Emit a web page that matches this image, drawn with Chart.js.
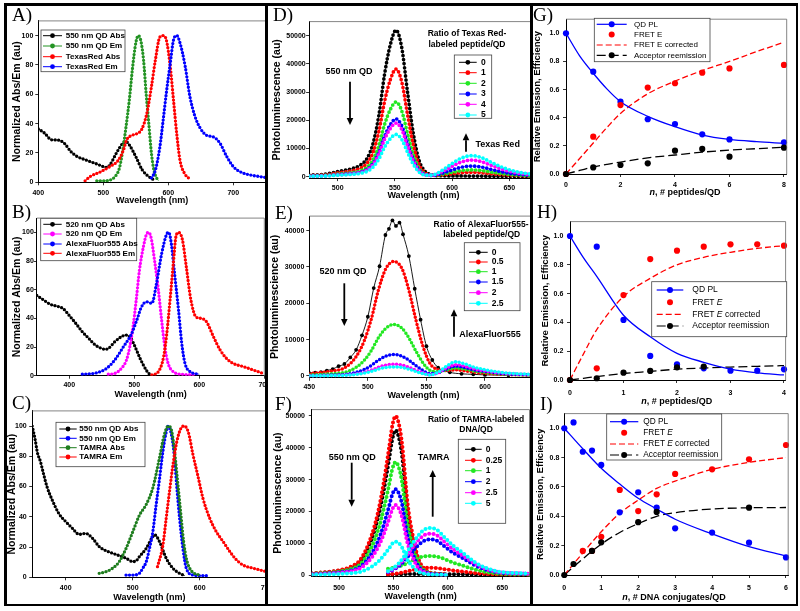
<!DOCTYPE html>
<html>
<head>
<meta charset="utf-8">
<title>QD FRET spectra and efficiencies</title>
<script src="https://cdn.jsdelivr.net/npm/chart.js@4.4.1/dist/chart.umd.min.js"></script>
<style>
  html, body { margin: 0; padding: 0; background: #fff; }
  #fig { position: relative; width: 800px; height: 611px; overflow: hidden; background: #fff; }
  .cell { position: absolute; top: 0; height: 611px; overflow: hidden; z-index: 1; }
  .cell canvas { position: absolute; top: 0; }
  .tag { position: absolute; z-index: 3; font-family: "Liberation Serif", "DejaVu Serif", serif; font-size: 19px; line-height: 19px; color: #000; }
  .rule { position: absolute; background: #000; z-index: 2; }
</style>
</head>
<body>
<div id="fig"></div>
<script>
// --- DATA: panel A (550 nm QD / Texas Red) ---
const aLabels = ['550 nm QD Abs', '550 nm QD Em', 'TexasRed Abs', 'TexasRed Em'];
const aQdAbsX = [400, 410, 420, 430, 440, 450, 460, 470, 480, 490, 500, 505, 510, 520, 530, 535, 540, 550, 560, 570, 578];
const aQdAbsY = [36.4, 33.4, 29, 28.8, 26.6, 21, 17.5, 15.7, 14.1, 12.5, 10.7, 10.2, 11.8, 19.8, 26.6, 27.7, 25.5, 17.5, 8.4, 3.9, 1.6];
const aQdEmX = [490, 500, 510, 520, 525, 530, 535, 540, 545, 550, 554, 558, 562, 566, 570, 574, 578, 582, 585];
const aQdEmY = [1, 1, 1.5, 5, 10, 22, 38, 56, 78, 95, 100, 96, 83, 60, 40, 20, 8, 3, 1];
const aTrAbsX = [472, 480, 495, 510, 523, 531, 536, 544, 551, 559, 567, 574, 580, 587, 592, 597, 603, 608, 613, 618, 625, 631];
const aTrAbsY = [1, 4, 7, 10.7, 15, 22, 29, 32, 33, 36, 47, 65, 83, 99, 100, 97, 79, 56, 33, 15, 6, 3];
const aTrEmX = [574, 580, 587, 592, 597, 603, 608, 613, 618, 626, 633, 641, 649, 659, 669, 679, 690, 700, 710, 726, 741, 751];
const aTrEmY = [3, 8, 24, 42, 61, 81, 97, 100, 95, 79, 59, 45, 37, 32, 31, 27, 17.5, 10.7, 7.3, 5, 3.9, 3.2];

// --- DATA: panel B (520 nm QD / AlexaFluor555) ---
const bLabels = ['520 nm QD Abs', '520 nm QD Em', 'AlexaFluor555 Abs', 'AlexaFluor555 Em'];
const bQdAbsX = [350, 360, 370, 380, 390, 400, 410, 420, 430, 440, 450, 455, 460, 470, 480, 487, 495, 500, 510, 520, 525];
const bQdAbsY = [56, 53, 50, 48.6, 47, 42, 36.5, 30.7, 26, 21.4, 19, 18.4, 19, 23.7, 27.2, 28.4, 26, 21.4, 11, 2.8, 0.5];
const bQdEmX = [460, 470, 480, 488, 493, 498, 503, 508, 514, 519, 522, 526, 531, 537, 542, 547, 552, 560, 573, 591];
const bQdEmY = [1, 1.6, 5, 11, 20, 34, 53, 74, 90, 99, 100, 96, 81, 60, 39, 20, 8.6, 2.8, 1, 0.7];
const bAfAbsX = [420, 442, 457, 470, 483, 496, 504, 511, 519, 527, 534, 542, 550, 553, 557, 562, 568, 573, 578, 586, 600];
const bAfAbsY = [1, 2, 5, 11, 20, 29.5, 39, 48, 51.6, 50.5, 64, 85, 99, 100, 92, 71, 46, 22.6, 8.6, 2.8, 1];
const bAfEmX = [527, 537, 545, 550, 555, 560, 564, 568, 574, 580, 587, 595, 603, 611, 622, 632, 642, 652, 668, 683, 698];
const bAfEmY = [0.5, 2.8, 13, 29.5, 53, 78, 97, 100, 95, 76, 53, 41, 40, 37.7, 27, 18, 12, 8.6, 6.3, 4, 1.6];

// --- DATA: panel C (550 nm QD / TAMRA) ---
const cLabels = ['550 nm QD Abs', '550 nm QD Em', 'TAMRA Abs', 'TAMRA Em'];
const cQdAbsX = [350, 354, 358, 362, 366, 372, 380, 390, 400, 410, 420, 430, 440, 450, 460, 470, 480, 490, 500, 505, 510, 520, 530, 533, 540, 550, 560, 570, 578];
const cQdAbsY = [100, 92, 82, 77, 70, 60, 51, 42, 36.8, 32.4, 28.4, 29, 25.8, 20.3, 17.6, 15.9, 14.3, 12.6, 10.4, 10.8, 13.7, 19, 26.9, 28, 23.6, 12.6, 6, 2.6, 1.1];
const cQdEmX = [490, 500, 510, 515, 520, 525, 530, 535, 540, 545, 550, 553, 558, 562, 566, 570, 575, 580, 590, 600, 610];
const cQdEmY = [1.5, 1.5, 2.6, 6, 10, 19, 30, 48, 65, 83, 96, 100, 94, 81, 59, 39, 19, 6, 1.5, 1.1, 1.1];
const cTamAbsX = [450, 460, 470, 480, 490, 500, 510, 520, 530, 540, 547, 553, 558, 563, 568, 572, 576, 580, 585, 592, 600];
const cTamAbsY = [2.6, 3.7, 6, 10.4, 19, 30, 41, 48, 59, 79, 94, 100, 97, 81, 59, 41, 23.6, 12.6, 6, 2.6, 1.5];
const cTamEmX = [537, 545, 550, 555, 560, 566, 572, 577, 583, 590, 597, 605, 615, 625, 635, 645, 655, 665, 680, 700];
const cTamEmY = [7, 21, 39, 57, 74, 90, 98.5, 100, 96, 81, 67.6, 52, 39, 30, 23.6, 17, 11.5, 8, 6, 3.7];

// --- DATA: panel D (Texas Red peptide ratios) ---
const dRatios = ['0', '1', '2', '3', '4', '5'];
const dX = [475, 490, 500, 510, 520, 526, 531, 536, 541, 546, 551, 556, 561, 566, 571, 576, 581, 586, 592, 600, 608, 617, 626, 635, 645, 655, 670];
const d0 = [570, 940, 1820, 2600, 4160, 6760, 11960, 21840, 36400, 46800, 52000, 45760, 30160, 15600, 5980, 2080, 780, 420, 310, 260, 260, 210, 210, 160, 160, 100, 100];
const d1 = [420, 690, 1340, 1910, 3060, 4970, 8790, 16040, 26740, 34380, 38200, 33620, 22160, 11460, 4390, 1530, 630, 470, 680, 1060, 1420, 1550, 1410, 1040, 700, 430, 230];
const d2 = [290, 480, 930, 1330, 2120, 3450, 6100, 11130, 18550, 23850, 26500, 23320, 15370, 7950, 3050, 1060, 490, 490, 900, 1560, 2160, 2410, 2180, 1600, 1050, 630, 310];
const d3 = [230, 370, 720, 1030, 1640, 2670, 4720, 8610, 14350, 18450, 20500, 18040, 11890, 6150, 2360, 820, 460, 610, 1310, 2400, 3360, 3780, 3410, 2500, 1620, 970, 450];
const d4 = [210, 340, 670, 950, 1520, 2470, 4370, 7980, 13300, 17100, 19000, 16720, 11020, 5700, 2190, 760, 520, 850, 1970, 3690, 5200, 5880, 5300, 3890, 2490, 1490, 680];
const d5 = [170, 270, 530, 750, 1200, 1950, 3450, 6300, 10500, 13500, 15000, 13200, 8700, 4500, 1730, 600, 520, 1010, 2460, 4660, 6590, 7460, 6720, 4930, 3150, 1880, 840];

// --- DATA: panel E (AlexaFluor555 peptide ratios) ---
const eRatios = ['0', '0.5', '1', '1.5', '2', '2.5'];
const e0X = [450, 455, 460, 465, 470, 475, 480, 485, 490, 495, 500, 505, 510, 515, 518, 521, 524, 527, 530, 535, 540, 545, 550, 555, 560, 570, 580, 590, 600, 620, 640];
const e0 = [800, 950, 1050, 1500, 1900, 2700, 3300, 5100, 7200, 11200, 16300, 24200, 30200, 38800, 40500, 42800, 41300, 42200, 39000, 33000, 24000, 15500, 8200, 4400, 2300, 1000, 600, 450, 300, 200, 150];
const eX = [450, 460, 470, 480, 490, 497, 503, 509, 515, 522, 529, 535, 541, 547, 553, 560, 567, 575, 583, 591, 600, 610, 620, 630, 640];
const e05 = [630, 950, 1420, 2200, 5360, 9770, 15750, 23630, 29300, 31500, 29610, 23630, 15440, 8190, 3470, 1750, 1500, 1700, 1400, 1050, 760, 560, 400, 300, 250];
const e1 = [280, 420, 630, 980, 2380, 4340, 7000, 10500, 13020, 14200, 13160, 10500, 6860, 3640, 1540, 1150, 1700, 2200, 1900, 1350, 1000, 680, 470, 350, 280];
const e15 = [120, 170, 260, 410, 990, 1800, 2900, 4350, 5390, 5900, 5450, 4350, 2840, 1510, 640, 900, 1950, 2700, 2300, 1650, 1250, 820, 560, 420, 330];
const e2 = [64, 96, 144, 224, 544, 990, 1600, 2400, 2980, 3250, 3010, 2400, 1570, 830, 350, 900, 2200, 3100, 2650, 1900, 1400, 950, 630, 470, 380];
const e25 = [50, 75, 110, 175, 425, 775, 1250, 1880, 2330, 2500, 2350, 1880, 1230, 650, 280, 1050, 2700, 3900, 3300, 2400, 1750, 1150, 780, 580, 460];

// --- DATA: panel F (TAMRA DNA ratios; QD part and TAMRA part) ---
const fRatios = ['0', '0.25', '1', '2', '2.5', '5'];
const fX = [475, 490, 500, 510, 520, 530, 536, 541, 546, 549, 552, 555, 558, 563, 568, 573, 580, 590, 600];
const f0 = [455, 910, 1365, 2275, 4550, 11375, 18200, 26390, 36400, 42770, 45500, 43225, 37310, 20475, 10920, 4550, 1365, 364, 137];
const f025 = [500, 1000, 1500, 2500, 5000, 12500, 20000, 29000, 40000, 47000, 50000, 47500, 41000, 22500, 12000, 5000, 1500, 400, 150];
const f1 = [355, 710, 1065, 1775, 3550, 8875, 14200, 20590, 28400, 33370, 35500, 33725, 29110, 15975, 8520, 3550, 1065, 284, 107];
const f2 = [270, 540, 810, 1350, 2700, 6750, 10800, 15660, 21600, 25380, 27000, 25650, 22140, 12150, 6480, 2700, 810, 216, 81];
const f25 = [220, 440, 660, 1100, 2200, 5500, 8800, 12760, 17600, 20680, 22000, 20900, 18040, 9900, 5280, 2200, 660, 176, 66];
const f5 = [105, 210, 315, 525, 1050, 2625, 4200, 6090, 8400, 9870, 10500, 9975, 8610, 4725, 2520, 1050, 315, 84, 32];
const faX = [545, 550, 555, 560, 565, 570, 576, 583, 590, 597, 605, 615, 625, 635, 645, 655, 665, 675];
const fa0 = [150, 200, 250, 280, 300, 300, 300, 300, 290, 270, 240, 200, 150, 100, 80, 60, 50, 40];
const fa025 = [184, 345, 575, 920, 1334, 1725, 2116, 2300, 2208, 1840, 1426, 1035, 621, 345, 184, 115, 92, 69];
const fa1 = [2000, 2300, 2700, 3300, 4200, 5000, 5700, 6000, 5800, 5000, 3900, 2800, 1700, 950, 500, 320, 250, 190];
const fa2 = [900, 1680, 2800, 4480, 6500, 8400, 10300, 11200, 10750, 8960, 6940, 5040, 3020, 1680, 900, 560, 450, 340];
const fa25 = [1040, 1950, 3250, 5200, 7540, 9750, 11960, 13000, 12480, 10400, 8060, 5850, 3510, 1950, 1040, 650, 520, 390];
const fa5 = [1180, 2220, 3700, 5920, 8580, 11100, 13620, 14800, 14200, 11840, 9180, 6660, 4000, 2220, 1180, 740, 590, 440];

// --- DATA: panel G (Texas Red peptides) ---
const gLabels = ['QD PL', 'FRET E', 'FRET E corrected', 'Acceptor reemission'];
const gN = [0, 1, 2, 3, 4, 5, 6, 8];
const gQdPl = [1.0, 0.727, 0.514, 0.389, 0.355, 0.282, 0.246, 0.225];
const gFret = [0, 0.265, 0.49, 0.614, 0.645, 0.72, 0.75, 0.775];
const gAcc = [0, 0.047, 0.064, 0.076, 0.166, 0.178, 0.123, 0.187];
const gFitN = [0, 0.5, 1, 1.5, 2, 3, 4, 5, 6, 7, 8];
const gQdFit = [1.0, 0.84, 0.716, 0.605, 0.514, 0.41, 0.336, 0.277, 0.246, 0.23, 0.218];
const gFretFit = [0, 0.11, 0.22, 0.33, 0.43, 0.57, 0.66, 0.735, 0.80, 0.87, 0.936];
const gAccFit = [0, 0.025, 0.05, 0.068, 0.085, 0.115, 0.135, 0.155, 0.17, 0.18, 0.19];

// --- DATA: panel H (AlexaFluor555 peptides) ---
const hLabels = ['QD PL', 'FRET *E*', 'FRET *E* corrected', 'Acceptor reemission'];
const hN = [0, 0.5, 1, 1.5, 2, 2.5, 3, 3.5, 4];
const hQdPl = [1.0, 0.926, 0.417, 0.167, 0.109, 0.081, 0.065, 0.065, 0.074];
const hFret = [0, 0.081, 0.59, 0.84, 0.898, 0.926, 0.942, 0.942, 0.933];
const hAccN = [0, 0.5, 1, 1.5, 2, 2.5];
const hAcc = [0, 0.012, 0.051, 0.063, 0.088, 0.093];
const hFitN = [0, 0.25, 0.5, 1, 1.5, 2, 2.5, 3, 3.5, 4];
const hQdFit = [1.0, 0.85, 0.72, 0.45, 0.30, 0.185, 0.123, 0.076, 0.05, 0.035];
const hFretFit = [0, 0.18, 0.35, 0.58, 0.706, 0.80, 0.852, 0.887, 0.914, 0.933];
const hAccFit = [0, 0.012, 0.024, 0.045, 0.06, 0.075, 0.083, 0.09, 0.095, 0.10];

// --- DATA: panel I (TAMRA DNA) ---
const iLabels = ['QD PL', 'FRET *E*', 'FRET *E* corrected', 'Acceptor reemission'];
const iN = [0, 0.25, 0.5, 0.75, 1, 1.5, 2, 2.5, 3, 4, 5, 6];
const iQdPl = [1.0, 1.04, 0.84, 0.848, 0.75, 0.427, 0.564, 0.459, 0.318, 0.289, 0.22, 0.12];
const iFretN = [0.5, 0.75, 1, 1.5, 2, 2.5, 3, 4, 5, 6];
const iFret = [0.164, 0.164, 0.26, 0.58, 0.436, 0.55, 0.689, 0.72, 0.789, 0.886];
const iAccN = [0, 0.25, 0.75, 1, 2, 2.5, 5];
const iAcc = [0, 0.075, 0.164, 0.223, 0.36, 0.43, 0.459];
const iFitN = [0, 0.5, 1, 1.5, 2, 2.5, 3, 4, 5, 6];
const iQdFit = [1.0, 0.86, 0.727, 0.62, 0.523, 0.45, 0.38, 0.28, 0.193, 0.13];
const iFretFit = [0, 0.15, 0.295, 0.42, 0.51, 0.59, 0.64, 0.72, 0.768, 0.80];
const iAccFit = [0, 0.11, 0.21, 0.29, 0.35, 0.40, 0.425, 0.45, 0.458, 0.46];

// --- TICKS ---
const tickWl = [400, 500, 600, 700];
const tickNorm = [0, 20, 40, 60, 80, 100];
const tickD = [500, 550, 600, 650];
const tickE = [450, 500, 550, 600];
const tickPL50 = [0, 10000, 20000, 30000, 40000, 50000];
const tickPL40 = [0, 10000, 20000, 30000, 40000];
const tickEff = [0, 0.2, 0.4, 0.6, 0.8, 1.0];
const tickG = [0, 2, 4, 6, 8];
const tickH = [0, 1, 2, 3, 4];
const tickI = [0, 1, 2, 3, 4, 5, 6];

// --- STYLE ---
const FONT = '"Liberation Sans", Arial, Helvetica, sans-serif';
Chart.defaults.font.family = FONT;
Chart.defaults.color = '#000';
const BLACK = '#000000', RED = '#ff0000', BLUE = '#0000ff', MAG = '#ff00ff', CYAN = '#00ffff', LIME = '#22e822';
const ratioColors = [BLACK, RED, LIME, BLUE, MAG, CYAN];

const fig = document.getElementById('fig');
const toXY = (xs, ys) => xs.map((x, i) => ({ x, y: ys[i] }));

// beaded curve: round-capped zero-length dashes + a thin line under it
function dotted(label, xs, ys, color, w, gap, order) {
  const data = toXY(xs, ys);
  return [
    { label, data, borderColor: color, backgroundColor: color, borderWidth: w, borderDash: [0, gap],
      borderCapStyle: 'round', pointRadius: 0, cubicInterpolationMode: 'monotone', order },
    { label, data, borderColor: color, borderWidth: 0.7, pointRadius: 0,
      cubicInterpolationMode: 'monotone', order: order + 0.5 }
  ];
}

function spectraItems(labels, colors) {
  return labels.map((t, i) => ({ text: t, color: colors[i], line: true, lw: 1, dot: true, r: 2.4 }));
}

function effItems(labels) {
  return [
    { text: labels[0], color: BLUE, line: true, lw: 1.2, dot: true, r: 3 },
    { text: labels[1], color: RED, dot: true, r: 3 },
    { text: labels[2], color: RED, line: true, lw: 1.2, dash: [6, 3] },
    { text: labels[3], color: BLACK, line: true, lw: 1.2, dash: [9, 4], dot: true, r: 3 }
  ];
}

function effDatasets(labels, fitN, qdFit, fretFit, accFit, qdN, qdY, fretN, fretY, accN, accY) {
  const fit = (label, ys, color, dash, order) => ({
    label, data: toXY(fitN, ys), borderColor: color, borderWidth: 1.3, borderDash: dash,
    pointRadius: 0, cubicInterpolationMode: 'monotone', order
  });
  const dots = (label, xs, ys, color, order) => ({
    label, data: toXY(xs, ys), showLine: false, pointRadius: 3.1,
    pointBackgroundColor: color, pointBorderWidth: 0, order, clip: false
  });
  return [
    fit(labels[3], accFit, BLACK, [9, 4], 6),
    fit(labels[2], fretFit, RED, [6, 3], 5),
    fit(labels[0], qdFit, BLUE, [], 4),
    dots(labels[0], qdN, qdY, BLUE, 3),
    dots(labels[1], fretN, fretY, RED, 2),
    dots(labels[3], accN, accY, BLACK, 1)
  ];
}

// --- DRAWING HELPERS ---
function drawRich(ctx, s, x, y, size, weight, align) {
  const parts = s.split('*').map((t, i) => ({ t, it: i % 2 === 1 })).filter(p => p.t);
  const fontOf = p => (p.it ? 'italic ' : '') + weight + ' ' + size + 'px ' + FONT;
  let w = 0;
  parts.forEach(p => { ctx.font = fontOf(p); w += ctx.measureText(p.t).width; });
  let cx = align === 'center' ? x - w / 2 : x;
  ctx.textBaseline = 'middle'; ctx.textAlign = 'left'; ctx.fillStyle = '#000';
  parts.forEach(p => { ctx.font = fontOf(p); ctx.fillText(p.t, cx, y); cx += ctx.measureText(p.t).width; });
}

function drawLegend(ctx, L) {
  const [x0, y0, x1, y1] = L.box;
  ctx.fillStyle = '#fff';
  ctx.fillRect(x0, y0, x1 - x0, y1 - y0);
  ctx.strokeStyle = '#444'; ctx.lineWidth = 0.8;
  ctx.strokeRect(x0, y0, x1 - x0, y1 - y0);
  L.items.forEach((it, i) => {
    const y = L.rows[i], [s0, s1] = L.sample;
    if (it.line) {
      ctx.setLineDash(it.dash || []);
      ctx.strokeStyle = it.color; ctx.lineWidth = it.lw;
      ctx.beginPath(); ctx.moveTo(s0, y); ctx.lineTo(s1, y); ctx.stroke();
      ctx.setLineDash([]);
    }
    if (it.dot) {
      ctx.fillStyle = it.color;
      ctx.beginPath(); ctx.arc((s0 + s1) / 2, y, it.r, 0, Math.PI * 2); ctx.fill();
    }
    drawRich(ctx, it.text, L.tx, y, L.size, L.weight, 'left');
  });
}

function drawArrow(ctx, x, yFrom, yTo) {
  const dir = Math.sign(yTo - yFrom), head = 7, hw = 3.3;
  ctx.strokeStyle = '#000'; ctx.fillStyle = '#000'; ctx.lineWidth = 1.8;
  ctx.beginPath(); ctx.moveTo(x, yFrom); ctx.lineTo(x, yTo - dir * head); ctx.stroke();
  ctx.beginPath(); ctx.moveTo(x, yTo); ctx.lineTo(x - hw, yTo - dir * head); ctx.lineTo(x + hw, yTo - dir * head);
  ctx.closePath(); ctx.fill();
}

function makeDeco(d) {
  return {
    id: 'deco',
    afterDraw(chart) {
      const ctx = chart.ctx, a = chart.chartArea;
      ctx.save();
      ctx.strokeStyle = '#666'; ctx.lineWidth = 0.8;
      ctx.beginPath(); ctx.moveTo(a.left, a.top); ctx.lineTo(a.right, a.top); ctx.lineTo(a.right, a.bottom); ctx.stroke();
      if (d.legend) drawLegend(ctx, d.legend);
      (d.heads || []).forEach(h => drawRich(ctx, h.text, h.x, h.y, h.size, 'bold', 'center'));
      (d.arrows || []).forEach(ar => drawArrow(ctx, ar[0], ar[1], ar[2]));
      if (d.xTitle) drawRich(ctx, d.xTitle.text, d.xTitle.x, d.xTitle.y, 9, 'bold', 'center');
      ctx.restore();
    }
  };
}

// --- PANEL FACTORY ---
function makePanel(p) {
  const wrap = document.createElement('div');
  wrap.className = 'cell';
  wrap.style.left = p.cell[0] + 'px';
  wrap.style.width = (p.cell[1] - p.cell[0]) + 'px';
  const cv = document.createElement('canvas');
  cv.width = 800; cv.height = 611;
  cv.style.left = -p.cell[0] + 'px';
  wrap.appendChild(cv);
  fig.appendChild(wrap);

  const [l, t, r, b] = p.plot;
  const ySize = p.yTitleSize || 10.5;
  const yBoxLeft = p.yTitleX - ySize * 1.2 / 2;
  const yW = l - yBoxLeft;
  const xH = p.xTitle ? p.xTitleOff + 9 * 1.2 / 2 : 24;
  const tickFont = { size: 7, weight: 'bold' };
  const zeroPad = s => { s.paddingLeft = 0; s.paddingRight = 0; s.paddingTop = 0; s.paddingBottom = 0; };

  new Chart(cv, {
    type: 'line',
    data: { datasets: p.datasets },
    options: {
      responsive: false, animation: false, events: [],
      layout: { autoPadding: false, padding: { left: yBoxLeft, top: t, right: 800 - r, bottom: 611 - b - xH } },
      plugins: { legend: { display: false }, tooltip: { enabled: false } },
      scales: {
        x: {
          type: 'linear', min: p.x[0], max: p.x[1],
          afterBuildTicks: s => { s.ticks = p.x[2].map(v => ({ value: v })); },
          afterFit: s => { s.height = xH; zeroPad(s); },
          grid: { drawOnChartArea: false, tickLength: 3, color: '#000', lineWidth: 0.8 },
          border: { color: '#000', width: 1 },
          ticks: { font: tickFont, color: '#000', padding: Math.max(0, p.xTickOff - 3 - 4.2), maxRotation: 0, autoSkip: false, callback: v => String(v) },
          title: { display: !!p.xTitle, text: p.xTitle || '', font: { size: 9, weight: 'bold' }, color: '#000', padding: 0 }
        },
        y: {
          type: 'linear', min: p.y[0], max: p.y[1],
          afterBuildTicks: s => { s.ticks = p.y[2].map(v => ({ value: v })); },
          afterFit: s => { s.width = yW; zeroPad(s); },
          grid: { drawOnChartArea: false, tickLength: 3, color: '#000', lineWidth: 0.8 },
          border: { color: '#000', width: 1 },
          ticks: { font: tickFont, color: '#000', padding: Math.max(0, p.yGap - 3), autoSkip: false, callback: p.yFmt || (v => String(v)) },
          title: { display: true, text: p.yTitle, font: { size: ySize, weight: 'bold' }, color: '#000', padding: 0 }
        }
      }
    },
    plugins: [makeDeco(p.deco || {})]
  });
}

// --- PANELS ---
const colorsA = [BLACK, '#239323', RED, BLUE];
makePanel({
  cell: [0, 266], plot: [38.3, 20.9, 265.8, 182.3], x: [400, 750, tickWl], y: [0, 110, tickNorm],
  yTitle: 'Normalized Abs/Em (au)', yTitleX: 16.7, yGap: 5, xTickOff: 10.4, xTitle: 'Wavelength (nm)', xTitleOff: 18.7,
  datasets: [].concat(
    dotted(aLabels[0], aQdAbsX, aQdAbsY, colorsA[0], 3.3, 3.5, 4),
    dotted(aLabels[1], aQdEmX, aQdEmY, colorsA[1], 3.3, 3.5, 3),
    dotted(aLabels[2], aTrAbsX, aTrAbsY, colorsA[2], 3.3, 3.5, 2),
    dotted(aLabels[3], aTrEmX, aTrEmY, colorsA[3], 3.3, 3.5, 1)
  ),
  deco: { legend: { box: [41, 30, 125, 71.7], sample: [43, 62], tx: 65.7, rows: [35.7, 46, 56.7, 66.7], size: 8, weight: 'bold', items: spectraItems(aLabels, colorsA) } }
});

const colorsB = [BLACK, MAG, BLUE, RED];
makePanel({
  cell: [0, 266], plot: [36.8, 218.1, 264.3, 375.7], x: [350, 700, tickWl], y: [0, 110, tickNorm],
  yTitle: 'Normalized Abs/Em (au)', yTitleX: 16.7, yGap: 3, xTickOff: 9.3, xTitle: 'Wavelength (nm)', xTitleOff: 18.6,
  datasets: [].concat(
    dotted(bLabels[0], bQdAbsX, bQdAbsY, colorsB[0], 3.3, 3.5, 4),
    dotted(bLabels[1], bQdEmX, bQdEmY, colorsB[1], 3.3, 3.5, 3),
    dotted(bLabels[2], bAfAbsX, bAfAbsY, colorsB[2], 3.3, 3.5, 2),
    dotted(bLabels[3], bAfEmX, bAfEmY, colorsB[3], 3.3, 3.5, 1)
  ),
  deco: { legend: { box: [40.7, 218.3, 136.7, 260.7], sample: [43.3, 61.7], tx: 65.7, rows: [224.3, 234, 244, 253.3], size: 8, weight: 'bold', items: spectraItems(bLabels, colorsB) } }
});

const colorsC = [BLACK, BLUE, '#1e7d1e', RED];
makePanel({
  cell: [0, 266], plot: [32.2, 410.9, 266.7, 577.3], x: [350, 700, tickWl], y: [0, 110, tickNorm],
  yTitle: 'Normalized Abs/Em (au)', yTitleX: 11.7, yGap: 5.5, xTickOff: 10.7, xTitle: 'Wavelength (nm)', xTitleOff: 20,
  datasets: [].concat(
    dotted(cLabels[0], cQdAbsX, cQdAbsY, colorsC[0], 3.3, 3.5, 4),
    dotted(cLabels[1], cQdEmX, cQdEmY, colorsC[1], 3.3, 3.5, 3),
    dotted(cLabels[2], cTamAbsX, cTamAbsY, colorsC[2], 3.3, 3.5, 2),
    dotted(cLabels[3], cTamEmX, cTamEmY, colorsC[3], 3.3, 3.5, 1)
  ),
  deco: { legend: { box: [56, 422.3, 145, 466.7], sample: [59.3, 76.7], tx: 79.3, rows: [429, 438.3, 447.7, 457], size: 8, weight: 'bold', items: spectraItems(cLabels, colorsC) } }
});

const dSeries = [d0, d1, d2, d3, d4, d5];
makePanel({
  cell: [266, 531], plot: [309.1, 21.6, 537.9, 178.1], x: [475, 675, tickD], y: [-500, 55000, tickPL50],
  yTitle: 'Photoluminescence (au)', yTitleX: 276.7, yGap: 3.4, xTickOff: 9.6, xTitle: 'Wavelength (nm)', xTitleOff: 17.9,
  datasets: [].concat(...dSeries.map((ys, i) => dotted(dRatios[i], dX, ys, ratioColors[i], 3.7, 4.1, 12 - 2 * i))),
  deco: {
    legend: { box: [454.3, 55, 491.7, 118.3], sample: [459, 476.7], tx: 481, rows: [62.3, 72.7, 83.3, 94, 104.3, 115], size: 8.5, weight: 'bold', items: spectraItems(dRatios, ratioColors) },
    heads: [
      { text: 'Ratio of Texas Red-', x: 467, y: 33.3, size: 8.5 },
      { text: 'labeled peptide/QD', x: 467, y: 44.3, size: 8.5 },
      { text: '550 nm QD', x: 349, y: 71.7, size: 9 },
      { text: 'Texas Red', x: 497.7, y: 145, size: 9 }
    ],
    arrows: [[350, 81.7, 125], [466, 151.7, 133.3]]
  }
});

const eSeries = [e05, e1, e15, e2, e25];
makePanel({
  cell: [266, 531], plot: [309.3, 216.1, 537.7, 377.8], x: [450, 645, tickE], y: [-500, 44000, tickPL40],
  yTitle: 'Photoluminescience (au)', yTitleX: 275, yGap: 5, xTickOff: 8.9, xTitle: 'Wavelength (nm)', xTitleOff: 18.2,
  datasets: [
    { label: eRatios[0], data: toXY(e0X, e0), borderColor: BLACK, borderWidth: 0.9, pointRadius: 1.9,
      pointBackgroundColor: BLACK, pointBorderWidth: 0, cubicInterpolationMode: 'monotone', order: 12 }
  ].concat(...eSeries.map((ys, i) => dotted(eRatios[i + 1], eX, ys, ratioColors[i + 1], 3.5, 3.7, 10 - 2 * i))),
  deco: {
    legend: { box: [464.3, 242.7, 520, 310.7], sample: [469, 487.7], tx: 491.7, rows: [252.3, 262, 271.7, 282, 292.7, 303.3], size: 8.5, weight: 'bold', items: spectraItems(eRatios, ratioColors) },
    heads: [
      { text: 'Ratio of AlexaFluor555-', x: 481, y: 224.3, size: 8.5 },
      { text: 'labeled peptide/QD', x: 481.7, y: 235, size: 8.5 },
      { text: '520 nm QD', x: 343, y: 271.7, size: 9 },
      { text: 'AlexaFluor555', x: 490, y: 335, size: 9 }
    ],
    arrows: [[344.3, 283.3, 326], [454, 336.7, 309.3]]
  }
});

const fQd = [f0, f025, f1, f2, f25, f5];
const fAcc = [fa0, fa025, fa1, fa2, fa25, fa5];
makePanel({
  cell: [266, 531], plot: [311.8, 409.6, 529.5, 576.6], x: [475, 675, tickD], y: [-500, 52000, tickPL50],
  yTitle: 'Photoluminescence (au)', yTitleX: 278.3, yGap: 6.8, xTickOff: 11.1, xTitle: 'Wavelength (nm)', xTitleOff: 20.1,
  datasets: [].concat(
    ...fQd.map((ys, i) => dotted(fRatios[i], fX, ys, ratioColors[i], 4, 4.4, 24 - 4 * i)),
    ...fAcc.map((ys, i) => dotted(fRatios[i], faX, ys, ratioColors[i], 4, 4.4, 22 - 4 * i))
  ),
  deco: {
    legend: { box: [458.3, 439.3, 505.7, 523.3], sample: [465, 481.7], tx: 485.7, rows: [449.3, 460.3, 470.7, 481.7, 492.7, 503.3], size: 8.5, weight: 'bold', items: spectraItems(fRatios, ratioColors) },
    heads: [
      { text: 'Ratio of TAMRA-labeled', x: 476, y: 419.3, size: 8.5 },
      { text: 'DNA/QD', x: 476, y: 430, size: 8.5 },
      { text: '550 nm QD', x: 352.3, y: 457.3, size: 9 },
      { text: 'TAMRA', x: 433.7, y: 457.3, size: 9 }
    ],
    arrows: [[351.7, 462.7, 506.7], [432.7, 516.7, 470]]
  }
});

const effFmt = v => v.toFixed(1);
makePanel({
  cell: [531, 800], plot: [566, 19.2, 786.7, 174], x: [0, 8.1, tickG], y: [0, 1.1, tickEff], yFmt: effFmt,
  yTitle: 'Relative Emission, Efficiency', yTitleSize: 9.5, yTitleX: 537.3, yGap: 6.7, xTickOff: 11,
  datasets: effDatasets(gLabels, gFitN, gQdFit, gFretFit, gAccFit, gN, gQdPl, gN, gFret, gN, gAcc),
  deco: {
    legend: { box: [594.3, 18.3, 710, 61.7], sample: [596.7, 626.7], tx: 634, rows: [24.3, 34.5, 45, 55.3], size: 8, weight: 'normal', items: effItems(gLabels) },
    xTitle: { text: '*n*, # peptides/QD', x: 685, y: 192.3 }
  }
});

makePanel({
  cell: [531, 800], plot: [570, 221.6, 785.6, 380], x: [0, 4.03, tickH], y: [0, 1.1, tickEff], yFmt: effFmt,
  yTitle: 'Relative Emission, Efficiency', yTitleSize: 9.5, yTitleX: 545, yGap: 6.7, xTickOff: 12.7,
  datasets: effDatasets(hLabels, hFitN, hQdFit, hFretFit, hAccFit, hN, hQdPl, hN, hFret, hAccN, hAcc),
  deco: {
    legend: { box: [651.7, 281.7, 786.7, 336.7], sample: [656.7, 683.3], tx: 692.3, rows: [290, 302.3, 314.3, 326], size: 8.5, weight: 'normal', items: effItems(hLabels) },
    xTitle: { text: '*n*, # peptides/QD', x: 676.7, y: 401.7 }
  }
});

makePanel({
  cell: [531, 800], plot: [564.3, 413.6, 788.2, 575], x: [0, 6.06, tickI], y: [0, 1.1, tickEff], yFmt: effFmt,
  yTitle: 'Relative Emission, Efficiency', yTitleSize: 9.5, yTitleX: 540, yGap: 5, xTickOff: 12.7,
  datasets: effDatasets(iLabels, iFitN, iQdFit, iFretFit, iAccFit, iN, iQdPl, iFretN, iFret, iAccN, iAcc),
  deco: {
    legend: { box: [606.7, 414, 721.7, 460], sample: [610, 638.3], tx: 643.3, rows: [421.7, 432.7, 444, 455], size: 8.3, weight: 'normal', items: effItems(iLabels) },
    xTitle: { text: '*n*, # DNA conjugates/QD', x: 674, y: 597.7 }
  }
});

// --- FRAME, DIVIDERS AND PANEL LETTERS ---
[[4, 3, 794, 2.5], [4, 603.5, 794, 2.5], [4, 3, 2.5, 603], [795.5, 3, 2.5, 603], [265, 3, 2.5, 603], [530, 3, 2.5, 603]]
  .forEach(([x, y, w, h]) => {
    const d = document.createElement('div');
    d.className = 'rule';
    Object.assign(d.style, { left: x + 'px', top: y + 'px', width: w + 'px', height: h + 'px' });
    fig.appendChild(d);
  });

[['A)', 12, 4.6], ['B)', 12, 202], ['C)', 12, 393], ['D)', 273, 4.6], ['E)', 275, 203], ['F)', 275, 394],
 ['G)', 533, 4.6], ['H)', 537, 202], ['I)', 540, 394]]
  .forEach(([t, x, y]) => {
    const d = document.createElement('div');
    d.className = 'tag';
    d.textContent = t;
    d.style.left = x + 'px'; d.style.top = y + 'px';
    fig.appendChild(d);
  });
</script>
</body>
</html>
